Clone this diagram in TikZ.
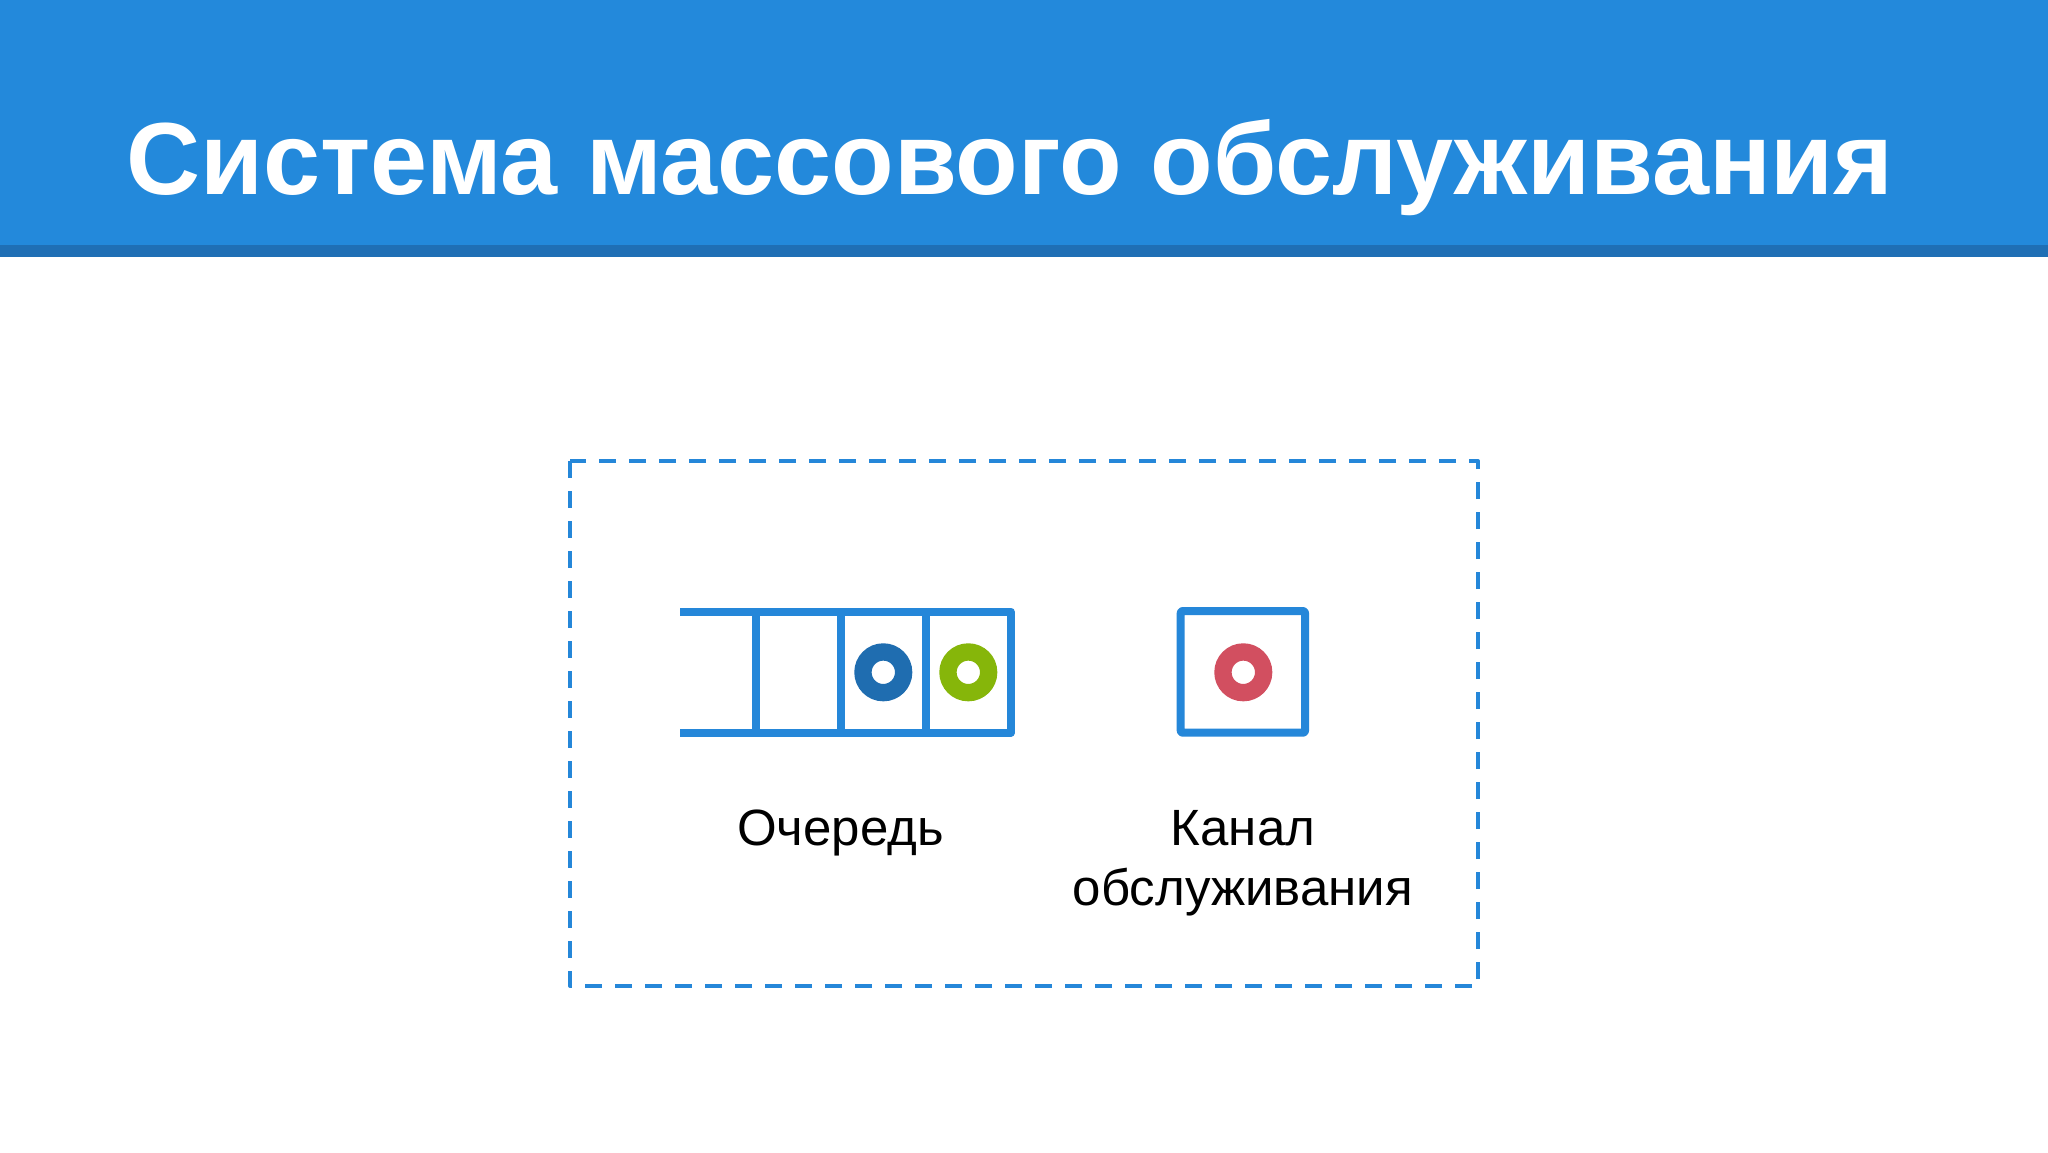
\documentclass[tikz,border=0pt]{standalone}
\usepackage{fontspec}
\setmainfont{Liberation Sans}
\definecolor{hdrblue}{RGB}{35,137,219}
\definecolor{hdrdark}{RGB}{31,111,181}
\definecolor{lineblue}{RGB}{37,135,217}
\definecolor{dkblue}{RGB}{31,109,176}
\definecolor{ltgreen}{RGB}{134,182,10}
\definecolor{rosered}{RGB}{210,79,96}
\tikzset{
  cellline/.style={draw=lineblue, line width=8pt, line join=round, line cap=butt},
  ring/.style={circle, draw=#1, fill=white, line width=17.3pt, minimum size=40.7pt, inner sep=0pt},
  lbl/.style={font=\fontsize{51}{60}\selectfont, text=black, inner sep=0pt, align=center},
}
\begin{document}
\begin{tikzpicture}[x=1pt,y=-1pt]
\useasboundingbox (0,0) rectangle (2048,1152);
\fill[white] (0,0) rectangle (2048,1152);
% header
\fill[hdrblue] (0,0) rectangle (2048,245);
\fill[hdrdark] (0,245) rectangle (2048,257);
\node[anchor=base west, inner sep=0pt, text=white, font=\fontsize{102.5}{110}\selectfont\bfseries] (title) at (126,194) {Система массового обслуживания};
% dashed system boundary
\draw[draw=lineblue, line width=4pt, dash pattern=on 17pt off 13pt, line join=round]
  (570,461) rectangle (1478,986);
\node[inner sep=0pt] (sys) at (1024,723) {};
% queue
\draw[cellline] (680,611.7) -- (1010.7,611.7) -- (1010.7,732.7) -- (680,732.7);
\draw[cellline] (756,611.7) -- (756,732.7);
\draw[cellline] (841,611.7) -- (841,732.7);
\draw[cellline] (926,611.7) -- (926,732.7);
\node[ring=dkblue] (c1) at (883.3,672.3) {};
\node[ring=ltgreen] (c2) at (968.3,672.3) {};
% channel
\draw[cellline, rounded corners=2pt] (1180.7,611) rectangle (1305,732.7);
\node[inner sep=0pt] (chan) at (1242.85,671.85) {};
\node[ring=rosered] (c3) at (1243.3,672.3) {};
% labels
\node[lbl, anchor=base] (qlabel) at (840.5,845) {Очередь};
\node[lbl, anchor=base] (clabel) at (1243,905) {Канал\\обслуживания};
\end{tikzpicture}
\end{document}
